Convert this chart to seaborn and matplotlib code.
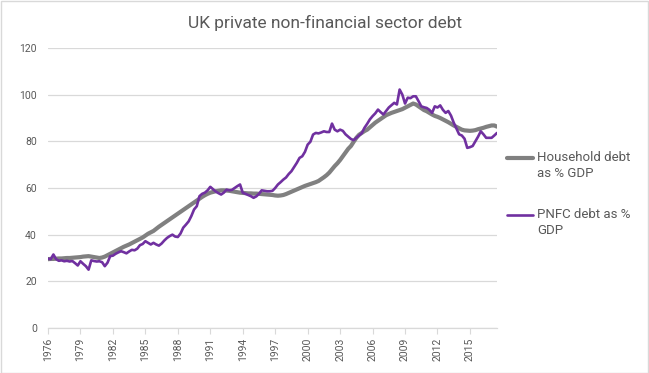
import numpy as np
import pandas as pd
import matplotlib
matplotlib.use("Agg")
import matplotlib.pyplot as plt
import seaborn as sns
from matplotlib.patches import Rectangle
from matplotlib.lines import Line2D

title = "UK private non-financial sector debt"
series_names = ["Household debt\nas % GDP", "PNFC debt as %\nGDP"]
start_year = 1976
tick_years = list(range(1976, 2016, 3))

household = [
    29.5, 29.6, 29.6, 29.7,  # 1976
    29.8, 29.8, 29.9, 30.0,  # 1977
    30.0, 30.1, 30.2, 30.3,  # 1978
    30.4, 30.6, 30.7, 30.8,  # 1979
    30.6, 30.4, 30.2, 30.0,  # 1980
    30.2, 30.6, 31.2, 31.8,  # 1981
    32.4, 33.0, 33.6, 34.2,  # 1982
    34.8, 35.3, 35.8, 36.4,  # 1983
    37.0, 37.6, 38.2, 38.8,  # 1984
    39.6, 40.4, 41.0, 41.6,  # 1985
    42.5, 43.4, 44.2, 45.0,  # 1986
    45.8, 46.6, 47.4, 48.2,  # 1987
    49.0, 49.8, 50.6, 51.4,  # 1988
    52.2, 53.0, 53.8, 54.6,  # 1989
    55.4, 56.2, 56.9, 57.5,  # 1990
    58.0, 58.3, 58.6, 58.8,  # 1991
    59.0, 59.0, 58.9, 58.8,  # 1992
    58.6, 58.4, 58.2, 58.0,  # 1993
    57.9, 57.8, 57.7, 57.7,  # 1994
    57.6, 57.6, 57.5, 57.4,  # 1995
    57.3, 57.2, 57.1, 57.0,  # 1996
    56.8, 56.7, 56.8, 57.0,  # 1997
    57.4, 57.9, 58.4, 58.9,  # 1998
    59.4, 59.9, 60.4, 60.9,  # 1999
    61.3, 61.7, 62.1, 62.5,  # 2000
    63.0, 63.8, 64.6, 65.5,  # 2001
    66.6, 68.0, 69.4, 70.6,  # 2002
    72.0, 73.6, 75.2, 76.8,  # 2003
    78.0, 79.8, 81.5, 82.8,  # 2004
    83.6, 84.4, 85.0, 86.0,  # 2005
    87.0, 88.0, 88.8, 89.6,  # 2006
    90.4, 91.2, 91.7, 92.2,  # 2007
    92.6, 93.0, 93.4, 93.8,  # 2008
    94.4, 95.0, 95.6, 96.2,  # 2009
    95.8, 95.0, 94.2, 93.4,  # 2010
    92.9, 92.2, 91.5, 90.9,  # 2011
    90.5, 90.0, 89.4, 88.8,  # 2012
    88.2, 87.5, 86.8, 86.2,  # 2013
    85.6, 85.0, 84.7, 84.6,  # 2014
    84.5, 84.6, 84.8, 85.2,  # 2015
    85.5, 85.8, 86.2, 86.5,  # 2016
    86.8, 86.8, 86.3,        # 2017
]

pnfc = [
    29.7, 29.5, 31.5, 29.5,  # 1976
    28.8, 29.0, 28.6, 28.8,  # 1977
    28.5, 28.7, 27.8, 26.8,  # 1978
    28.6, 27.5, 26.5, 25.0,  # 1979
    29.0, 28.7, 28.5, 28.6,  # 1980
    28.2, 26.5, 28.0, 30.8,  # 1981
    31.0, 31.8, 32.4, 32.9,  # 1982
    32.5, 32.0, 32.8, 33.5,  # 1983
    33.3, 34.0, 35.5, 36.0,  # 1984
    37.2, 36.5, 35.8, 36.5,  # 1985
    35.8, 35.3, 36.2, 37.5,  # 1986
    38.6, 39.4, 40.0, 39.2,  # 1987
    39.0, 40.5, 43.0, 44.3,  # 1988
    45.7, 48.0, 50.8, 52.2,  # 1989
    56.5, 57.5, 58.0, 59.0,  # 1990
    60.5, 59.5, 58.5, 57.8,  # 1991
    57.2, 58.0, 59.3, 59.0,  # 1992
    59.2, 60.0, 60.8, 61.5,  # 1993
    58.0, 57.5, 57.0, 56.5,  # 1994
    55.8, 56.4, 57.5, 59.0,  # 1995
    58.8, 58.6, 58.6, 58.8,  # 1996
    60.0, 61.5, 62.5, 63.6,  # 1997
    64.5, 66.0, 67.2, 69.0,  # 1998
    70.8, 72.9, 73.6, 75.5,  # 1999
    78.6, 79.8, 82.9, 83.6,  # 2000
    83.4, 83.8, 84.3, 84.0,  # 2001
    84.0, 87.6, 85.0, 84.3,  # 2002
    85.0, 84.5, 83.0, 82.0,  # 2003
    81.0, 80.5, 81.5, 82.5,  # 2004
    83.5, 85.8, 87.5, 89.4,  # 2005
    90.8, 92.0, 93.6, 92.5,  # 2006
    91.5, 93.0, 94.5, 95.5,  # 2007
    96.5, 95.8, 102.2, 100.0,  # 2008
    96.2, 98.7, 98.5, 99.3,  # 2009
    99.3, 97.2, 95.0, 94.6,  # 2010
    94.3, 93.5, 92.2, 95.0,  # 2011
    94.5, 95.4, 93.5, 92.2,  # 2012
    93.0, 91.0, 88.0, 85.5,  # 2013
    83.0, 82.5, 81.1, 77.2,  # 2014
    77.5, 78.0, 80.0, 82.0,  # 2015
    84.3, 83.0, 81.5, 81.5,  # 2016
    81.5, 82.5, 83.6,        # 2017
]

colors = ["#808080", "#7030A0"]
widths = [3.0, 1.9]

n = len(household)
df = pd.DataFrame({
    "idx": list(range(n)) * 2,
    "value": household + pnfc,
    "series": [series_names[0]] * n + [series_names[1]] * len(pnfc),
})

sns.set_theme(style="white")
plt.rcParams["font.family"] = ["Roboto", "DejaVu Sans"]

fig = plt.figure(figsize=(6.49, 3.73), dpi=100)
ax = fig.add_axes([48 / 649, 1 - 328 / 373, (497 - 48) / 649, 280 / 373])

sns.lineplot(data=df, x="idx", y="value", hue="series", ax=ax,
             palette=dict(zip(series_names, colors)),
             legend=False, estimator=None, sort=False)
lines = ax.get_lines()
lines[0].set_linewidth(widths[0])
lines[1].set_linewidth(widths[1])
lines[1].set_zorder(3)

ax.set_xlim(0, n - 1)
ax.set_ylim(0, 120)
ax.set_yticks(range(0, 121, 20))
ax.yaxis.grid(True, color="#D9D9D9", linewidth=0.9)
ax.xaxis.grid(False)
for s in ["top", "right", "left"]:
    ax.spines[s].set_visible(False)
ax.spines["bottom"].set_color("#D9D9D9")
ax.spines["bottom"].set_linewidth(0.9)

xt = [(y - start_year) * 4 for y in tick_years]
ax.set_xticks(xt)
ax.set_xticklabels([str(y) for y in tick_years], rotation=90)
ax.tick_params(axis="x", length=4, width=0.8, color="#D9D9D9",
               labelsize=7.5, labelcolor="#595959", pad=3, bottom=True)
ax.tick_params(axis="y", length=0, labelsize=7.5, labelcolor="#595959", pad=8)
ax.set_xlabel("")
ax.set_ylabel("")

fig.text(325 / 649, 1 - 23 / 373, title, ha="center", va="center",
         fontsize=12.5, color="#595959")

# legend (Excel style: marker aligned with first text line)
W, H = 649, 373
for i, (name, c, w) in enumerate(zip(series_names, colors, widths)):
    ytop = 158 + i * 57
    fig.add_artist(Line2D([507 / W, 533 / W], [1 - ytop / H, 1 - ytop / H],
                          color=c, lw=w, transform=fig.transFigure))
    fig.text(537 / W, 1 - (ytop - 7) / H, name, ha="left", va="top",
             fontsize=9.5, color="#595959", linespacing=1.25)

fig.patches.append(Rectangle((0.5 / W, 0.5 / H), 647.5 / W, 371.5 / H,
                             transform=fig.transFigure, fill=False,
                             edgecolor="#D9D9D9", linewidth=1))

fig.savefig("out.png", dpi=100)
